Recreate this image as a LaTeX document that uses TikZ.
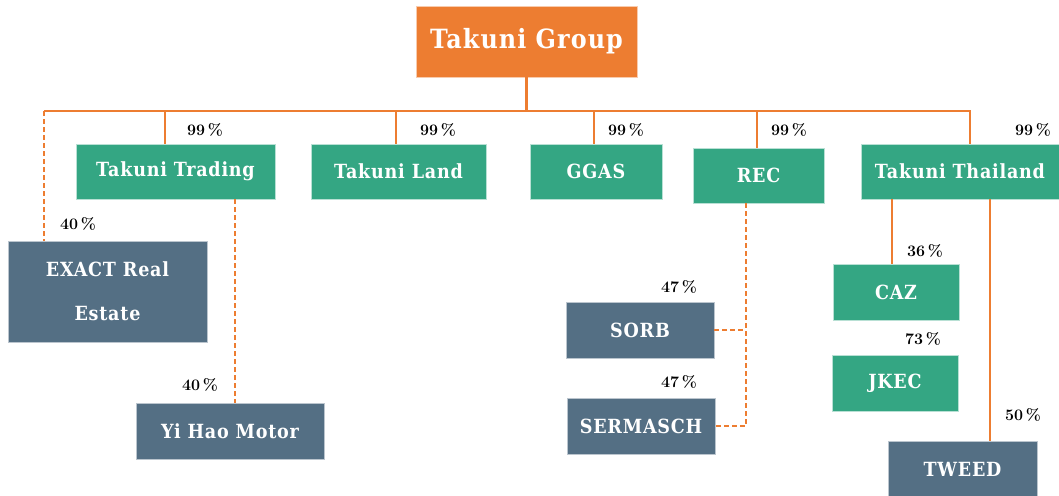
\documentclass[tikz,border=0pt]{standalone}
\usepackage{fontspec}
\newfontfamily\boxfont{DejaVu Serif Condensed Bold}[LetterSpace=4]
\definecolor{orng}{HTML}{ED7D31}
\definecolor{grn}{HTML}{34A683}
\definecolor{slate}{HTML}{546F84}
\begin{document}
\begin{tikzpicture}[x=1pt,y=-1pt,
  box/.style={rectangle,inner sep=0pt,text=white,font=\boxfont\fontsize{19.5}{26}\selectfont,align=center,line width=0.8pt},
  gbox/.style={box,fill=grn,draw=grn!35!white},
  sbox/.style={box,fill=slate,draw=slate!40!white},
  conn/.style={draw=orng,line width=2.2pt},
  dconn/.style={conn,dash pattern=on 5pt off 3pt},
  pct/.style={font=\bfseries\fontsize{16}{18}\selectfont,inner sep=0pt}]
\useasboundingbox (0,0) rectangle (1059,495);
% nodes
\node[box,fill=orng,draw=orng!40!white,minimum width=221pt,minimum height=71pt,font=\boxfont\fontsize{26.5}{32}\selectfont] (grp) at (526.5,41.5) {Takuni Group};
\node[gbox,minimum width=199pt,minimum height=55pt] (tt) at (175.5,171.5) {Takuni Trading};
\node[gbox,minimum width=175pt,minimum height=55pt] (tl) at (398.5,171.5) {Takuni Land};
\node[gbox,minimum width=132pt,minimum height=55pt] (ggas) at (596,171.5) {GGAS};
\node[gbox,minimum width=131pt,minimum height=55pt] (rec) at (758.5,175.5) {REC};
\node[gbox,minimum width=198pt,minimum height=55pt] (tth) at (960,171.5) {Takuni Thailand};
\node[sbox,minimum width=199pt,minimum height=101pt,font=\boxfont\fontsize{19.5}{44}\selectfont] (exact) at (107.5,291.5) {EXACT Real\\Estate};
\node[sbox,minimum width=188pt,minimum height=56pt] (yihao) at (230,431) {Yi Hao Motor};
\node[sbox,minimum width=148pt,minimum height=56pt] (sorb) at (640,330) {SORB};
\node[sbox,minimum width=148pt,minimum height=56pt] (serm) at (641,426) {SERMASCH};
\node[gbox,minimum width=126pt,minimum height=56pt] (caz) at (896,292) {CAZ};
\node[gbox,minimum width=126pt,minimum height=56pt] (jkec) at (895,383) {JKEC};
\node[sbox,minimum width=149pt,minimum height=56pt] (tweed) at (962.5,469) {TWEED};
% connectors
\coordinate (busL) at (44,111);
\coordinate (busR) at (970,111);
\draw[conn] (grp.south) -- (grp.south |- busL);
\draw[conn] (busL) -- (busR) -- (busR |- tth.north);
\draw[dconn] (busL) -- (busL |- exact.north);
\draw[conn] (165,111) -- (165,111 |- tt.north);
\draw[conn] (396,111) -- (396,111 |- tl.north);
\draw[conn] (594,111) -- (594,111 |- ggas.north);
\draw[conn] (757,111) -- (757,111 |- rec.north);
\draw[dconn] (tt.south -| 235,0) -- (yihao.north -| 235,0);
\coordinate (recbus) at (746,426);
\draw[dconn] (rec.south -| recbus) -- (recbus) -- (serm.east);
\draw[dconn] (sorb.east) -- (sorb.east -| recbus);
\draw[conn] (tth.south -| 892,0) -- (caz.north -| 892,0);
\draw[conn] (tth.south -| 990,0) -- (tweed.north -| 990,0);
% labels
\node[pct] (p1) at (205,130) {99\,\%};
\node[pct] (p2) at (438,130) {99\,\%};
\node[pct] (p3) at (626,130) {99\,\%};
\node[pct] (p4) at (789,130) {99\,\%};
\node[pct] (p5) at (1033,130) {99\,\%};
\node[pct] (p6) at (78,224) {40\,\%};
\node[pct] (p7) at (200,385) {40\,\%};
\node[pct] (p8) at (679,287) {47\,\%};
\node[pct] (p9) at (679,382) {47\,\%};
\node[pct] (p10) at (925,251) {36\,\%};
\node[pct] (p11) at (923,339) {73\,\%};
\node[pct] (p12) at (1023,415) {50\,\%};
\end{tikzpicture}
\end{document}
